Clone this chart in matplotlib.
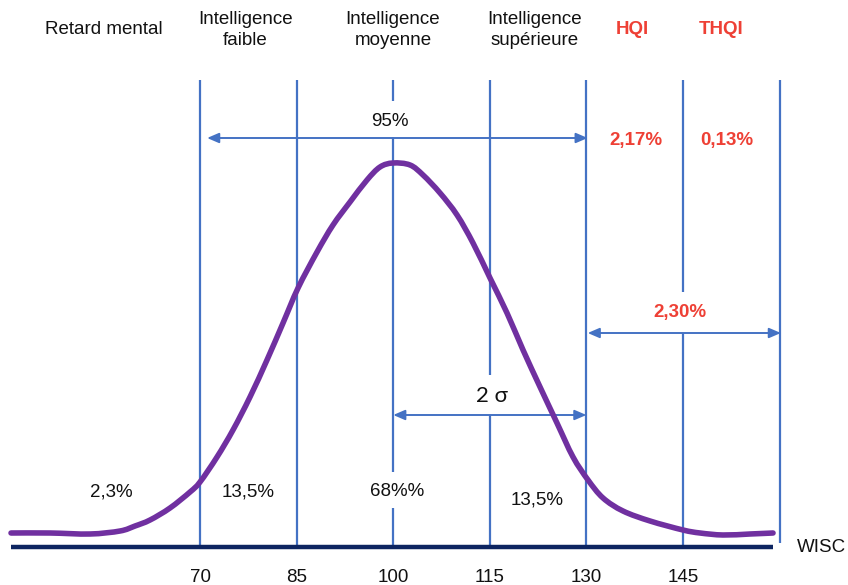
import matplotlib
matplotlib.use("Agg")
import matplotlib.pyplot as plt
from matplotlib.path import Path
from matplotlib.patches import PathPatch

plt.rcParams['font.family'] = ['Liberation Sans', 'DejaVu Sans']

# ---- data ----
curve_iq = [40.65, 46.71, 52.92, 57.58, 59.91, 62.24, 65.34, 68.45, 70.00, 72.64,
            75.12, 77.76, 80.40, 82.89, 85.22, 88.17, 90.65, 93.29, 95.93, 97.95,
            99.97, 102.61, 104.63, 107.27, 109.91, 112.39, 115.03, 117.67, 120.16,
            122.80, 125.43, 127.92, 130.25, 132.58, 135.68, 139.88, 145.00, 147.64,
            151.21, 155.40, 158.98]
curve_h = [14, 14, 13, 16, 21, 27, 39, 55, 65, 90,
           117, 150, 187, 224, 259, 295, 322, 345, 367, 380,
           384, 382, 372, 354, 332, 304, 269, 234, 197,
           160, 124, 90, 67, 49, 36, 26, 17, 14,
           12, 13, 14]

tick_values = [70, 85, 100, 115, 130, 145]
tick_labels = ["70", "85", "100", "115", "130", "145"]
bounds = [70, 85, 100, 115, 130, 145, 160]

headers = ["Retard mental", "Intelligence\nfaible", "Intelligence\nmoyenne",
           "Intelligence\nsupérieure", "HQI", "THQI"]
header_x = [55.1, 77.0, 99.97, 121.9, 137.2, 150.9]

zone_labels = ["2,3%", "13,5%", "68%%", "13,5%"]
zone_x = [56.3, 77.45, 100.6, 122.3]
zone_y = [55, 55, 55, 47]

red_labels = ["2,17%", "0,13%"]
red_x = [137.7, 151.8]

pct_95 = "95%"
pct_230 = "2,30%"
sigma_label = "2 σ"

# ---- style ----
blue = '#4472C4'
purple = '#7030A0'
navy = '#0D2561'
red = '#EE4035'
txt = '#111111'

fig = plt.figure(figsize=(8.48, 5.85), dpi=100)
ax = fig.add_axes([0, 0, 1, 1])
ax.set_xlim(38.94, 170.62)
ax.set_ylim(-38, 547)
ax.axis('off')

top = 467
# vertical boundary lines (with gaps around labels)
gaps = {100: [(410, 446), (39, 75)], 115: [(132, 172)], 145: [(214, 255)]}
for b in bounds:
    bottom = 2 if b != 160 else 4
    segs = [(bottom, top)]
    for g0, g1 in gaps.get(b, []):
        new = []
        for s0, s1 in segs:
            if g0 > s0 and g1 < s1:
                new += [(s0, g0), (g1, s1)]
            else:
                new.append((s0, s1))
        segs = new
    for s0, s1 in segs:
        ax.plot([b, b], [s0, s1], color=blue, lw=1.6, solid_capstyle='butt', zorder=2)

# baseline
ax.plot([40.65, 159.0], [0, 0], color=navy, lw=3.2, solid_capstyle='butt', zorder=3)

# bell curve: smooth Bezier path through the read points (Catmull-Rom handles)
pts = list(zip(curve_iq, curve_h))
verts = [pts[0]]
codes = [Path.MOVETO]
n = len(pts)
for i in range(n - 1):
    p0 = pts[i - 1] if i > 0 else pts[i]
    p1 = pts[i]
    p2 = pts[i + 1]
    p3 = pts[i + 2] if i + 2 < n else pts[i + 1]
    c1 = (p1[0] + (p2[0] - p0[0]) / 6.0, p1[1] + (p2[1] - p0[1]) / 6.0)
    c2 = (p2[0] - (p3[0] - p1[0]) / 6.0, p2[1] - (p3[1] - p1[1]) / 6.0)
    verts += [c1, c2, p2]
    codes += [Path.CURVE4] * 3
ax.add_patch(PathPatch(Path(verts, codes), facecolor='none', edgecolor=purple,
                       lw=4.0, capstyle='round', joinstyle='round', zorder=4))

# arrows
def harrow(x0, x1, y):
    ax.annotate('', xy=(x1, y), xytext=(x0, y),
                arrowprops=dict(arrowstyle='<|-|>,head_length=0.7,head_width=0.3',
                                color=blue, lw=1.4, shrinkA=0, shrinkB=0), zorder=3)

harrow(71.1, 130.2, 409)
harrow(100.0, 130.0, 132)
harrow(130.2, 160.2, 214)

# headers
for t, x in zip(headers, header_x):
    is_red = t in ("HQI", "THQI")
    ax.text(x, 517, t, ha='center', va='center', fontsize=13.5,
            color=red if is_red else txt,
            fontweight='bold' if is_red else 'normal', linespacing=1.3)

# zone labels
for t, x, y in zip(zone_labels, zone_x, zone_y):
    ax.text(x, y, t, ha='center', va='center', fontsize=13.5, color=txt)

for t, x in zip(red_labels, red_x):
    ax.text(x, 406, t, ha='center', va='center', fontsize=13.5, color=red, fontweight='bold')

ax.text(99.5, 426, pct_95, ha='center', va='center', fontsize=13.5, color=txt)
ax.text(144.5, 235, pct_230, ha='center', va='center', fontsize=13.5, color=red, fontweight='bold')
ax.text(115.3, 151, sigma_label, ha='center', va='center', fontsize=16, color=txt,
        family=['Lato', 'DejaVu Sans'])

# ticks
for v, t in zip(tick_values, tick_labels):
    ax.text(v, -30, t, ha='center', va='center', fontsize=13.5, color=txt)

ax.text(162.7, 0, "WISC", ha='left', va='center', fontsize=13.5, color=txt)

fig.savefig('out.png', dpi=100)
